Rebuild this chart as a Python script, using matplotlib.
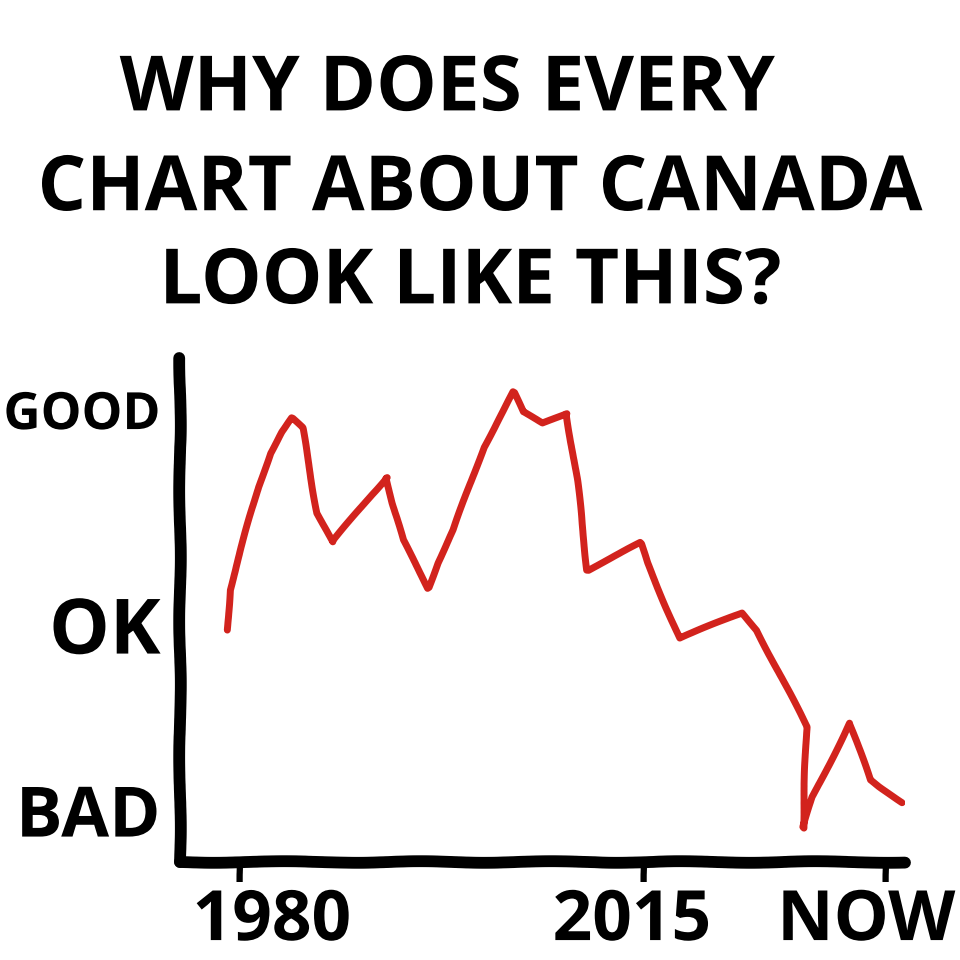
import matplotlib
matplotlib.use("Agg")
import matplotlib.pyplot as plt
from matplotlib.transforms import ScaledTranslation

# values (x in "years", y on a 0-100 mood scale)
years = [1978.9, 1979.1, 1981.6, 1982.6, 1983.6, 1984.5, 1985.4, 1986.7, 1988.0,
         1992.7, 1993.2, 1994.1, 1996.3, 1997.1, 1998.5, 2001.1, 2001.9, 2003.7,
         2004.5, 2006.2, 2008.3, 2009.2, 2010.1, 2014.7, 2015.3, 2018.1, 2023.5,
         2024.8, 2029.1, 2028.8, 2029.6, 2032.8, 2034.6, 2035.4, 2037.4]
mood = [46.4, 54.4, 75.0, 81.8, 86.0, 88.8, 86.8, 69.8, 64.0,
        77.0, 71.8, 64.4, 54.8, 59.8, 66.4, 83.0, 86.4, 94.0,
        90.0, 87.8, 89.8, 76.4, 58.4, 63.8, 59.8, 44.8, 49.8,
        46.4, 27.0, 6.8, 13.0, 27.8, 16.4, 15.0, 12.0]

tick_years = [1980, 2015, 2036]
tick_names = ["1980", "2015", "NOW"]
level_vals = [90.4, 47.4, 10.4]
level_names = ["GOOD", "OK", "BAD"]
title_lines = ["WHY DOES EVERY", "CHART ABOUT CANADA", "LOOK LIKE THIS?"]

plt.xkcd(scale=0.8, length=150, randomness=2)
plt.rcParams["font.family"] = ["Open Sans", "DejaVu Sans"]
plt.rcParams["font.weight"] = "bold"

fig = plt.figure(figsize=(9.6, 9.6), dpi=100)
fig.patch.set_facecolor("white")

# hand-lettered title, one text per line
for line, xc, yb in zip(title_lines, [0.466, 0.5, 0.49], [0.885, 0.781, 0.684]):
    fig.text(xc, yb, line, ha="center", va="baseline", fontsize=55,
             fontweight="bold", color="black")

ax = fig.add_axes([0.1875, 0.102, 0.755, 0.525])
ax.plot(years, mood, color="#d2231d", lw=5,
        solid_capstyle="round", solid_joinstyle="round")

ax.set_xlim(1974.8, 2037.6)
ax.set_ylim(0, 100.8)
for s in ["top", "right"]:
    ax.spines[s].set_visible(False)
for s in ["left", "bottom"]:
    ax.spines[s].set_linewidth(8.5)
    ax.spines[s].set_capstyle("round")

ax.set_xticks(tick_years, tick_names)
ax.set_yticks(level_vals, level_names)
ax.tick_params(axis="x", length=14, width=4.5, direction="out", pad=4,
               labelsize=50, colors="black")
ax.tick_params(axis="y", length=0, pad=14, colors="black")

# nudge x labels like the drawing
for lab, dx in zip(ax.get_xticklabels(), [0.32, -0.12, -0.2]):
    lab.set_transform(lab.get_transform() + ScaledTranslation(dx, 0, fig.dpi_scale_trans))
for lab, fs in zip(ax.get_yticklabels(), [37, 55, 50]):
    lab.set_fontsize(fs)

fig.savefig("out.png", dpi=100, facecolor="white")
